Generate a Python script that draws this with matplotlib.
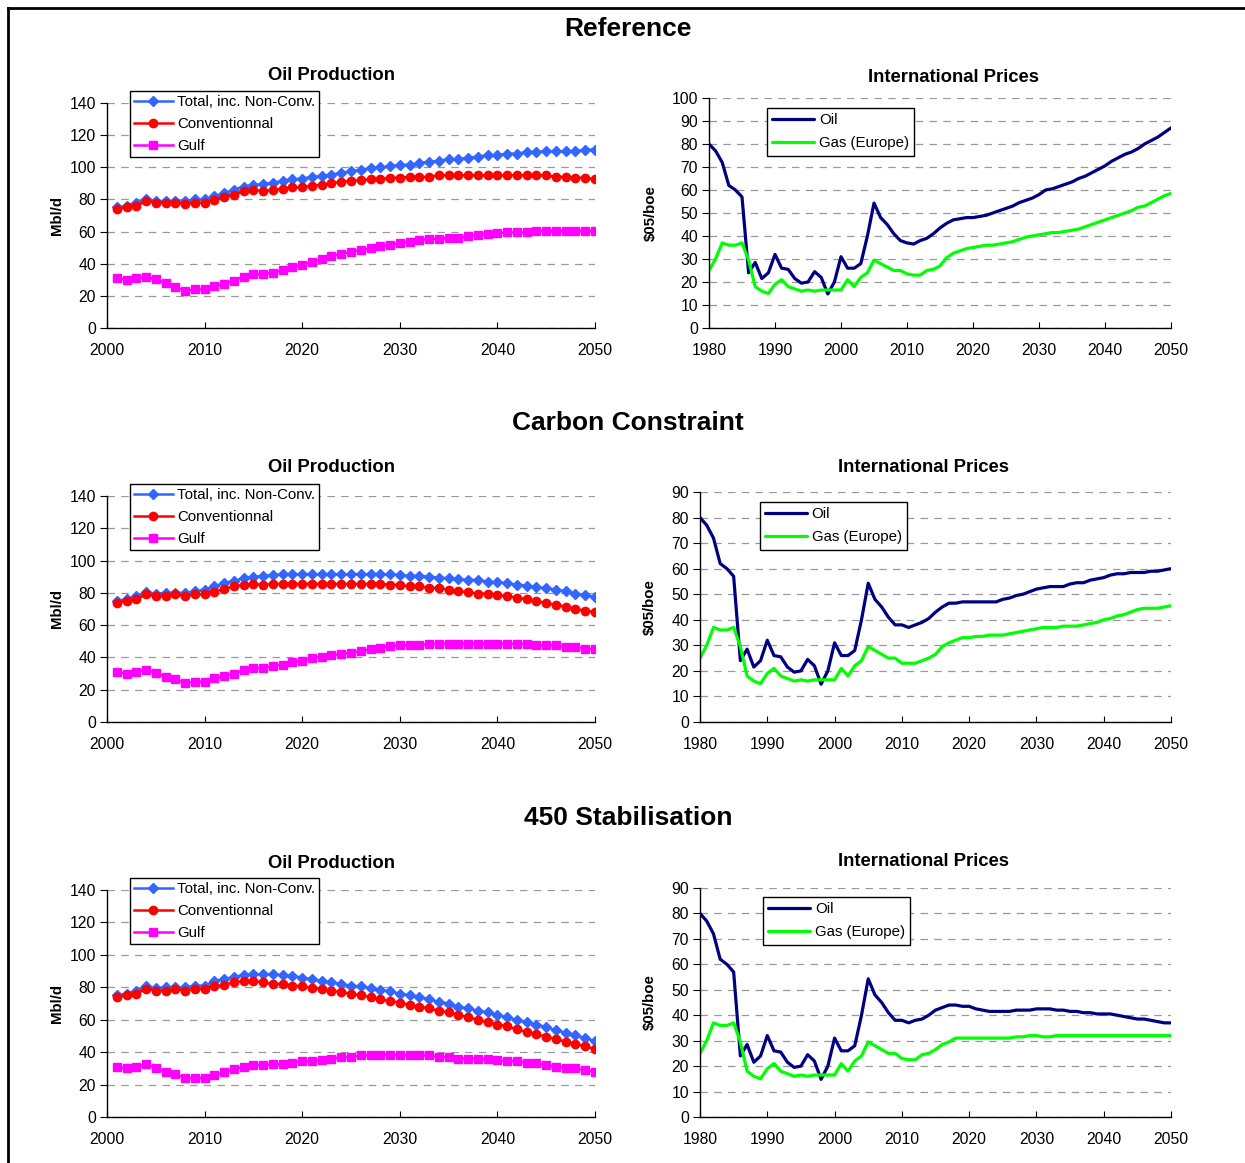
import numpy as np
import matplotlib
matplotlib.use('Agg')
import matplotlib.pyplot as plt
from matplotlib.lines import Line2D

plt.rcParams['font.family'] = ['Liberation Sans', 'DejaVu Sans']

# ---------------- datos ----------------
anios_prod = np.arange(2001, 2051)
anios_precio = np.arange(1980, 2051)

escenarios = ['Reference', 'Carbon Constraint', '450 Stabilisation']

total_ref = [75, 76, 78, 80, 79, 79, 79, 79, 80, 80,
             82, 84, 86, 88, 89, 89.5, 90.5, 91.5, 92.5, 93,
             94, 94.5, 95.5, 96.5, 97.5, 98.5, 99.5, 100, 100.5, 101.5,
             101.5, 102.5, 103.5, 104, 105, 105, 106, 106.5, 107.5, 107.5,
             108.5, 108.5, 109.5, 109.5, 110, 110, 110, 110, 111, 111]
conv_ref = [74, 75, 76, 79, 78, 78, 78, 77, 78, 78,
            79.5, 81.5, 83, 85, 86, 85, 86, 86.5, 87.5, 87.5,
            88.5, 89, 90, 91, 91.5, 92, 92.5, 92.5, 93.5, 93.5,
            94, 94, 94, 95, 95, 95, 95, 95, 95, 95,
            95, 95, 95, 95, 95, 94, 94, 93.5, 93.5, 92.5]
gulf_ref = [31, 30, 31, 31.5, 30.5, 28, 25.5, 23, 24, 24,
            26, 27.5, 29.5, 32, 33.5, 33.5, 34.5, 36, 38, 39.5,
            41, 43, 45, 46, 47.5, 48.5, 49.5, 51, 51.5, 53,
            53.5, 54.5, 55.5, 55.5, 56, 56, 57, 58, 58.5, 59,
            59.5, 59.5, 59.5, 60.5, 60.5, 60.5, 60.5, 60.5, 60.5, 60.5]

total_cc = [75, 76, 78, 80.5, 79.5, 80, 80, 80, 81, 82,
            84, 86, 87.5, 89, 90, 90.5, 91, 91.5, 91.5, 91.5,
            91.5, 91.5, 91.5, 91.5, 91.5, 91.5, 91.5, 91.5, 91.5, 91,
            90.5, 90.5, 90, 89.5, 89, 88.5, 88, 88, 87, 86.5,
            86, 85, 84.5, 83.5, 83, 82, 81, 79.5, 78.5, 77.5]
conv_cc = [74, 75, 76, 79, 78, 78, 79, 78, 79, 79,
           80.5, 82.5, 84, 85, 85.5, 85, 85.5, 85.5, 85.5, 85.5,
           85.5, 85.5, 85.5, 85.5, 85.5, 85.5, 85.5, 85.5, 85, 85,
           84, 84, 83, 83, 82, 81, 80.5, 79.5, 79.5, 78.5,
           78, 77, 76, 75, 73.5, 72.5, 71.5, 70, 69, 68]
gulf_cc = [31, 30, 31, 32.5, 30.5, 28, 26.5, 24, 25, 25,
           27, 28.5, 30, 32, 33.5, 33.5, 34.5, 35.5, 37, 38,
           39.5, 40.5, 41.5, 42, 43, 44, 45, 46, 47, 47.5,
           47.5, 47.5, 48.5, 48.5, 48.5, 48.5, 48.5, 48.5, 48.5, 48.5,
           48.5, 48.5, 48.5, 47.5, 47.5, 47.5, 46.5, 46.5, 45.5, 45]

total_450 = [75, 76, 78, 80.5, 79.5, 80, 80, 80, 81, 81,
             84, 85, 86.5, 87.5, 88, 88, 88, 87.5, 87, 86,
             85, 84, 83, 82, 81, 80.5, 79.5, 78.5, 77.5, 76,
             75, 74, 72.5, 71, 70, 68, 67, 65.5, 64.5, 63,
             61.5, 60, 58.5, 57, 55.5, 53.5, 52, 50.5, 48.5, 47]
conv_450 = [74, 75, 76, 79, 78, 78, 79, 78, 79, 79,
            80.5, 81.5, 83, 84, 84, 83, 82, 82, 81, 80.5,
            79.5, 79, 78, 77, 76, 75, 74, 72.5, 71.5, 70.5,
            69, 68, 67, 65.5, 64.5, 63, 61.5, 60, 58.5, 57,
            56, 54, 52.5, 51, 49.5, 48, 46.5, 45, 43.5, 42]
gulf_450 = [31, 30, 31, 32.5, 30.5, 28, 26.5, 24, 24, 24,
            26, 27.5, 29.5, 31, 32, 32, 32.5, 32.5, 33.5, 34.5,
            34.5, 35, 36, 37, 37, 38, 38, 38, 38.5, 38.5,
            38, 38, 38, 37, 37, 36, 36, 36, 35.5, 35,
            34.5, 34.5, 33.5, 33, 32, 31, 30.5, 30, 29, 28]

# precios historicos 1980-2009 (comunes)
oil_hist = [80, 77, 72, 62, 60, 57, 24, 28.5, 21.5, 24,
            32, 26, 25.5, 21.5, 19.5, 20, 24.5, 22, 14.8, 20,
            31, 26, 26, 28, 40, 54.3, 48, 45, 41, 38]
gas_hist = [25, 30, 37, 36, 36, 37, 29.5, 18, 16, 15,
            19, 21, 18, 17, 16, 16.5, 16, 16.5, 16.5, 16.5,
            16.5, 21, 18, 22, 24, 29.5, 28, 26.5, 25, 25]

# proyecciones 2010-2050
oil_ref = [37, 36.5, 38, 39, 41, 43.5, 45.5, 47, 47.5, 48,
           48, 48.5, 49, 50, 51, 52, 53, 54.5, 55.5, 56.5,
           58, 60, 60.5, 61.5, 62.5, 63.5, 65, 66, 67.5, 69,
           70.5, 72.5, 74, 75.5, 76.5, 78, 80, 81.5, 83, 85, 87]
gas_ref = [23.5, 23, 23, 25, 25.5, 27, 30.5, 32.5, 33.5, 34.5,
           35, 35.5, 36, 36, 36.5, 37, 37.5, 38.5, 39.5, 40,
           40.5, 41, 41.5, 41.5, 42, 42.5, 43, 44, 45, 46,
           47, 48, 49, 50, 51, 52.5, 53, 54.5, 56, 57.5, 58.5]
oil_cc = [38, 37, 38, 39, 40.5, 43, 45, 46.5, 46.5, 47,
          47, 47, 47, 47, 47, 48, 48.5, 49.5, 50, 51,
          52, 52.5, 53, 53, 53, 54, 54.5, 54.5, 55.5, 56,
          56.5, 57.5, 58, 58, 58.5, 58.5, 58.5, 59, 59, 59.5, 60]
gas_cc = [23, 23, 23, 24, 25, 26.5, 29.5, 31, 32, 33,
          33, 33.5, 33.5, 34, 34, 34, 34.5, 35, 35.5, 36,
          36.5, 37, 37, 37, 37.5, 37.5, 37.5, 38, 38.5, 39,
          40, 40.5, 41.5, 42, 43, 44, 44.5, 44.5, 44.5, 45, 45.5]
oil_450 = [38, 37, 38, 38.5, 40, 42, 43, 44, 44, 43.5,
           43.5, 42.5, 42, 41.5, 41.5, 41.5, 41.5, 42, 42, 42,
           42.5, 42.5, 42.5, 42, 42, 41.5, 41.5, 41, 41, 40.5,
           40.5, 40.5, 40, 39.5, 39, 38.5, 38.5, 38, 37.5, 37, 37]
gas_450 = [23, 22.5, 22.5, 24.5, 25, 26.5, 28.5, 29.5, 31, 31,
           31, 31, 31, 31, 31, 31, 31, 31.5, 31.5, 32,
           32, 31.5, 31.5, 32, 32, 32, 32, 32, 32, 32,
           32, 32, 32, 32, 32, 32, 32, 32, 32, 32, 32]

produccion = [(total_ref, conv_ref, gulf_ref),
              (total_cc, conv_cc, gulf_cc),
              (total_450, conv_450, gulf_450)]
precios = [(oil_ref, gas_ref, 100), (oil_cc, gas_cc, 90), (oil_450, gas_450, 90)]

# ---------------- figura ----------------
W, H = 1245, 1163
fig = plt.figure(figsize=(W / 100, H / 100), dpi=100)

def fx(px):
    return px / W

def fy(py):
    return 1 - py / H

# marco
fig.add_artist(Line2D([fx(8), fx(8)], [fy(8), 0], color='black', lw=2, transform=fig.transFigure))
fig.add_artist(Line2D([fx(8), 1], [fy(8), fy(8)], color='black', lw=2, transform=fig.transFigure))

def estilo(ax):
    for s in ['top', 'right']:
        ax.spines[s].set_visible(False)
    for s in ['left', 'bottom']:
        ax.spines[s].set_linewidth(1.0)
    ax.yaxis.grid(True, linestyle=(0, (6, 5)), color='#999999', linewidth=0.9)
    ax.set_axisbelow(True)
    ax.tick_params(axis='y', direction='out', length=5, labelsize=11.3, pad=3)
    ax.tick_params(axis='x', direction='in', length=4, labelsize=11.3, pad=10.5)

# posiciones (px): top, bottom del area de trazado
filas = [(103, 328, 98, 328), (496, 722, 492, 722), (890, 1117, 888, 1117)]
titulos_sec = [29, 423, 818]
tit_prod_y = [76, 468, 863]
tit_precio_y = [77, 467, 862]
izq_precio = [709, 700, 700]
leg_precio = [(767, 108), (760, 502), (763, 897)]
tit_precio_x = [954, 923, 923]

for i in range(3):
    t1, b1, t2, b2 = filas[i]
    fig.text(0.5045, fy(titulos_sec[i]), escenarios[i], ha='center', va='center',
             fontsize=19, fontweight='bold')

    # --- Oil Production ---
    ax = fig.add_axes([fx(107), fy(b1), fx(595 - 107), (b1 - t1) / H])
    total, conv, gulf = produccion[i]
    ax.plot(anios_prod, total, color='#3366FF', lw=1.8, marker='D', ms=5,
            label='Total, inc. Non-Conv.')
    ax.plot(anios_prod, conv, color='#FF0000', lw=1.8, marker='o', ms=6,
            label='Conventionnal')
    ax.plot(anios_prod, gulf, color='#FF00FF', lw=1.8, marker='s', ms=5.5,
            label='Gulf')
    ax.set_xlim(2000, 2050)
    ax.set_ylim(0, 140)
    ax.set_xticks(range(2000, 2051, 10))
    ax.set_yticks(range(0, 141, 20))
    estilo(ax)
    ax.set_ylabel('Mbl/d', fontsize=10.8, fontweight='bold', labelpad=4)
    fig.text(fx(332), fy(tit_prod_y[i]), 'Oil Production', ha='center', va='center',
             fontsize=13.3, fontweight='bold')
    ax.legend(loc='upper left', bbox_to_anchor=(fx(130), fy(t1 - 12)),
              bbox_transform=fig.transFigure, borderaxespad=0, fontsize=10.8,
              frameon=True, fancybox=False, edgecolor='black', framealpha=1,
              handlelength=2.6, handletextpad=0.3, labelspacing=0.55,
              borderpad=0.25, numpoints=1).get_frame().set_linewidth(1.0)

    # --- International Prices ---
    oil_fut, gas_fut, ymax = precios[i]
    oil = oil_hist + oil_fut
    gas = gas_hist + gas_fut
    l2 = izq_precio[i]
    ax2 = fig.add_axes([fx(l2), fy(b2), fx(1171 - l2), (b2 - t2) / H])
    ax2.plot(anios_precio, oil, color='#000080', lw=2.3, label='Oil',
             solid_joinstyle='round', solid_capstyle='round')
    ax2.plot(anios_precio, gas, color='#00FF00', lw=2.3, label='Gas (Europe)',
             solid_joinstyle='round', solid_capstyle='round')
    ax2.set_xlim(1980, 2050)
    ax2.set_ylim(0, ymax)
    ax2.set_xticks(range(1980, 2051, 10))
    ax2.set_yticks(range(0, ymax + 1, 10))
    estilo(ax2)
    ax2.set_ylabel(r'\$05/boe', fontsize=10.8, fontweight='bold', labelpad=10)
    fig.text(fx(tit_precio_x[i]), fy(tit_precio_y[i]), 'International Prices', ha='center',
             va='center', fontsize=13.3, fontweight='bold')
    lx, ly = leg_precio[i]
    ax2.legend(loc='upper left', bbox_to_anchor=(fx(lx), fy(ly)),
               bbox_transform=fig.transFigure, borderaxespad=0, fontsize=10.8,
               frameon=True, fancybox=False, edgecolor='black', framealpha=1,
               handlelength=2.8, handletextpad=0.3, labelspacing=0.6,
               borderpad=0.35).get_frame().set_linewidth(1.0)

fig.savefig('out.png', dpi=100)
